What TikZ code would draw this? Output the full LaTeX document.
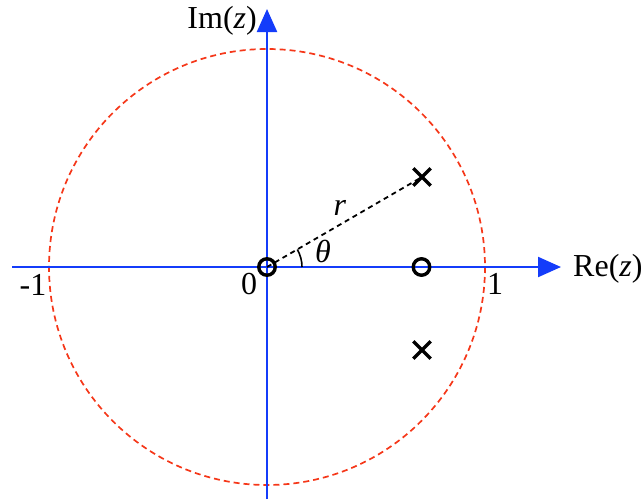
\documentclass[tikz,border=0pt]{standalone}
\usepackage{fontspec}
\setmainfont{Liberation Serif}
\usetikzlibrary{arrows.meta,calc}
\definecolor{axisblue}{RGB}{20,60,250}
\definecolor{circred}{RGB}{245,55,25}
\tikzset{
  axis/.style={axisblue, line width=2.2pt, -{Triangle[length=23pt,width=20pt]}},
  unitcirc/.style={circred, line width=1.7pt, dash pattern=on 6pt off 4pt},
  radius line/.style={black, line width=1.8pt, dash pattern=on 5pt off 4pt},
  zeromark/.style={circle, draw=black, line width=3.4pt, minimum size=16.5pt, inner sep=0pt},
  polemark/.style={inner sep=0pt, minimum size=17pt},
  lbl/.style={font=\fontsize{32}{32}\selectfont, inner sep=0pt},
}
\begin{document}
\begin{tikzpicture}[x=1pt,y=-1pt]
\useasboundingbox (0,0) rectangle (643,499);
\coordinate (O) at (267,267);
\coordinate (xl) at (12,267);
\coordinate (xr) at (561,267);
\coordinate (yb) at (267,499);
\coordinate (yt) at (267,9);
\draw[unitcirc] (O) circle[radius=218];
\draw[axis] (xl) -- (xr);
\draw[axis] (yb) -- (yt);
\node[polemark] (p1) at (422,177) {};
\node[polemark] (p2) at (422,350) {};
\foreach \p in {p1,p2}{
  \draw[line width=3.5pt] (\p.north west) -- (\p.south east) (\p.north east) -- (\p.south west);
}
\draw[radius line] (O) -- (p1.center);
\draw[black, line width=1.6pt] ($(O)+(35,0)$) arc[start angle=0, end angle=-30, radius=35];
\node[zeromark] (z1) at (O) {};
\node[zeromark] (z2) at (421.5,267) {};
\node[lbl, anchor=west] (re) at (573,269) {Re(\textit{z})};
\node[lbl, anchor=east] (im) at (257,21) {Im(\textit{z})};
\node[lbl] (r) at (340,208) {\textit{r}};
\node[lbl] (th) at (323,251) {\textit{θ}};
\node[lbl] (zero) at (249,284) {0};
\node[lbl] (m1) at (33,285) {-1};
\node[lbl] (one) at (495,284) {1};
\end{tikzpicture}
\end{document}
